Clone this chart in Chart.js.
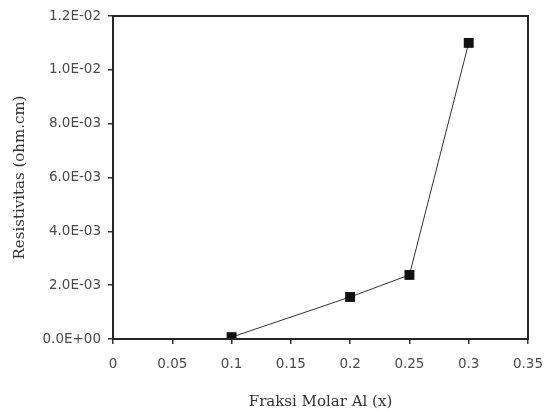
<!DOCTYPE html>
<html>
<head>
<meta charset="utf-8">
<script src="https://cdn.jsdelivr.net/npm/chart.js@4/dist/chart.umd.min.js"></script>
<style>
  html, body { margin:0; padding:0; background:#fff; }
  #wrap { width:545px; height:411px; }
</style>
</head>
<body>
<div id="wrap"><canvas id="chart" width="545" height="411"></canvas></div>
<script>
// data
const molarFraction = [0.1, 0.2, 0.25, 0.3];
const resistivity   = [0.00007, 0.00156, 0.00238, 0.0110];
const xTicks = [0, 0.05, 0.1, 0.15, 0.2, 0.25, 0.3, 0.35];
const yTicks = [0, 0.002, 0.004, 0.006, 0.008, 0.010, 0.012];

// 1.2E-02 style labels
function sci(v){
  if (Math.abs(v) < 1e-12) return '0.0E+00';
  const [m, e] = v.toExponential(1).split('e');
  const n = parseInt(e, 10);
  return m + 'E' + (n < 0 ? '-' : '+') + String(Math.abs(n)).padStart(2, '0');
}

const frame = {
  id: 'frame',
  afterDraw(c){
    const a = c.chartArea, ctx = c.ctx;
    ctx.save();
    ctx.strokeStyle = '#262626';
    ctx.lineWidth = 2;
    ctx.strokeRect(a.left, a.top, a.right - a.left, a.bottom - a.top);
    ctx.restore();
  }
};

const tickFont = { family:'"DejaVu Sans", sans-serif', size:13.5 };
const titleFont = { family:'"DejaVu Serif", serif', size:15 };

new Chart(document.getElementById('chart'), {
  type: 'scatter',
  data: {
    datasets: [{
      data: molarFraction.map((x, i) => ({ x, y: resistivity[i] })),
      showLine: true,
      borderColor: '#333',
      borderWidth: 1,
      pointStyle: 'rect',
      pointRadius: 7,
      pointBackgroundColor: '#111',
      pointBorderColor: '#111',
      pointBorderWidth: 0
    }]
  },
  options: {
    responsive: false,
    animation: false,
    layout: { padding: { top: 16, right: 17, left: 0, bottom: 0 } },
    plugins: { legend: { display:false }, tooltip: { enabled:false } },
    scales: {
      x: {
        type: 'linear', min: 0, max: 0.35,
        afterBuildTicks: s => { s.ticks = xTicks.map(v => ({ value: v })); },
        afterFit: s => { s.height = 72; s.paddingRight = 0; s.paddingLeft = 0; },
        grid: { drawOnChartArea:false, tickLength:5, color:'#333', lineWidth:1.5 },
        border: { display:false },
        ticks: { color:'#4a4a4a', font: tickFont, padding: 12, maxRotation:0,
                 callback: v => String(parseFloat(v.toFixed(2))) },
        title: { display:true, text:'Fraksi Molar Al (x)', color:'#333', font: titleFont,
                 padding: { top: 14, bottom: 0 } }
      },
      y: {
        type: 'linear', min: 0, max: 0.012,
        afterBuildTicks: s => { s.ticks = yTicks.map(v => ({ value: v })); },
        afterFit: s => { s.width = 113; },
        grid: { drawOnChartArea:false, tickLength:5, color:'#333', lineWidth:1.5 },
        border: { display:false },
        ticks: { color:'#4a4a4a', font: tickFont, padding: 7, callback: v => sci(v) },
        title: { display:true, text:'Resistivitas (ohm.cm)', color:'#333', font: titleFont,
                 padding: { top: 11, bottom: 0 } }
      }
    }
  },
  plugins: [frame]
});
</script>
</body>
</html>
